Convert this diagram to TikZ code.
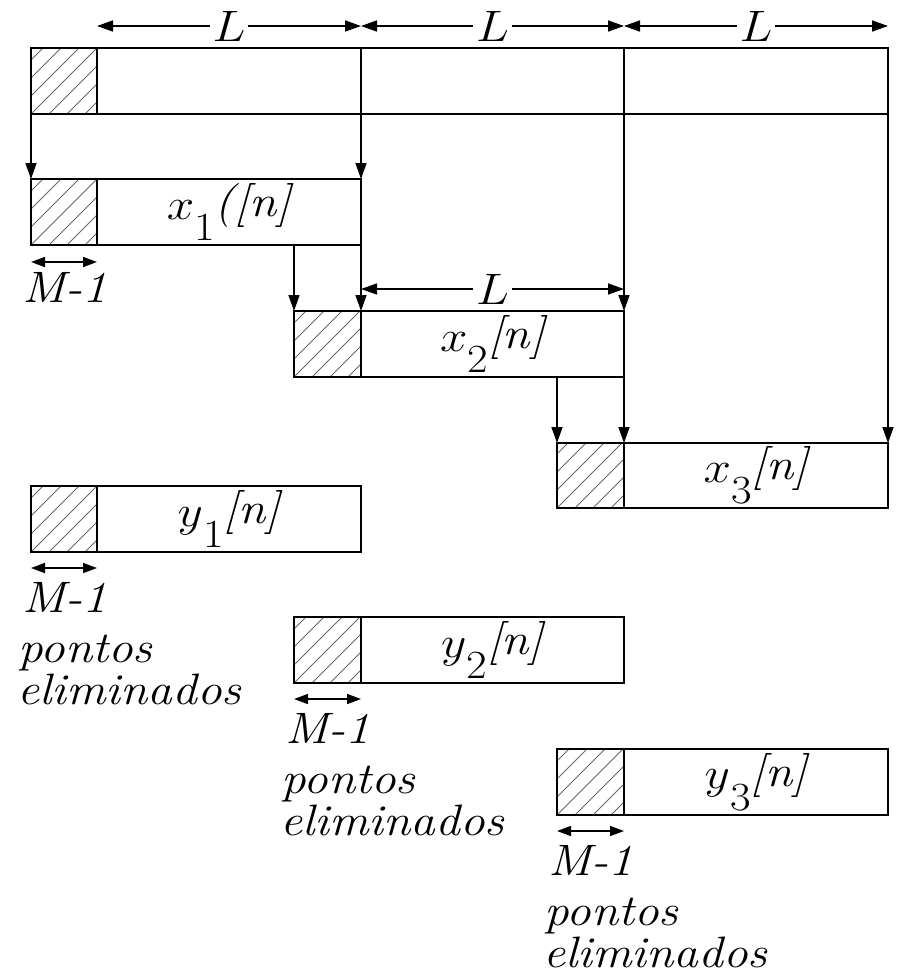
\RequirePackage{fix-cm}
\documentclass[tikz,border=0pt]{standalone}
\usetikzlibrary{arrows.meta,calc}
\newcommand\wide[1]{\scalebox{1.12}[1]{#1}}
\newcommand\sigl[3]{\wide{$#1$\raisebox{-0.48em}{\fontsize{40}{42}\selectfont #2}\raisebox{0.06em}{\itshape #3}}}
\begin{document}
\begin{tikzpicture}[x=1pt,y=-1pt,
  every node/.style={font=\fontsize{44}{52}\selectfont},
  seg/.style={draw,line width=1.6pt,rectangle,anchor=north west,inner sep=0pt,outer sep=0pt,minimum height=66pt},
  hatch/.style={seg,path picture={
      \foreach \i in {-90,-72,...,90}
        \draw[gray!80!black,line width=0.9pt] ([xshift=\i pt]path picture bounding box.south west) -- ++(160pt,160pt);}},
  arr/.style={line width=1.5pt,-{Triangle[length=16pt,width=11pt]}},
  dim/.style={line width=1.6pt,{Triangle[length=16pt,width=11pt]}-{Triangle[length=16pt,width=11pt]}},
  sdim/.style={line width=1.6pt,{Triangle[length=14pt,width=10pt]}-{Triangle[length=14pt,width=10pt]}},
  lbl/.style={fill=white,inner sep=3pt,font=\fontsize{44}{52}\selectfont},
  txt/.style={anchor=base west,inner sep=0pt,font=\fontsize{44}{52}\selectfont\itshape}]
\useasboundingbox (0,0) rectangle (898,977);
% top bar
\node[hatch,minimum width=66pt] (h0) at (31,48) {};
\node[seg,minimum width=264pt] (t1) at (97,48) {};
\node[seg,minimum width=263pt] (t2) at (361,48) {};
\node[seg,minimum width=264pt] (t3) at (624,48) {};
% x1
\node[hatch,minimum width=66pt] (x1h) at (31,179) {};
\node[seg,minimum width=264pt] (x1) at (97,179) {};
\node at (x1.center) {\sigl{x}{1}{([n]}};
% x2
\node[hatch,minimum width=67pt] (x2h) at (294,311) {};
\node[seg,minimum width=263pt] (x2) at (361,311) {};
\node at (x2.center) {\sigl{x}{2}{[n]}};
% x3
\node[hatch,minimum width=67pt,minimum height=65pt] (x3h) at (557,443) {};
\node[seg,minimum width=264pt,minimum height=65pt] (x3) at (624,443) {};
\node at (x3.center) {\sigl{x}{3}{[n]}};
% y boxes
\node[hatch,minimum width=66pt] (y1h) at (31,486) {};
\node[seg,minimum width=264pt] (y1) at (97,486) {};
\node at (y1.center) {\sigl{y}{1}{[n]}};
\node[hatch,minimum width=67pt] (y2h) at (294,617) {};
\node[seg,minimum width=263pt] (y2) at (361,617) {};
\node at (y2.center) {\sigl{y}{2}{[n]}};
\node[hatch,minimum width=67pt] (y3h) at (557,749) {};
\node[seg,minimum width=264pt] (y3) at (624,749) {};
\node at (y3.center) {\sigl{y}{3}{[n]}};
% top L dimensions
\draw[dim] ([yshift=22pt]t1.north west) -- ([yshift=22pt]t1.north east) node[midway,lbl] {\wide{$L$}};
\draw[dim] ([yshift=22pt]t2.north west) -- ([yshift=22pt]t2.north east) node[midway,lbl] {\wide{$L$}};
\draw[dim] ([yshift=22pt]t3.north west) -- ([yshift=22pt]t3.north east) node[midway,lbl] {\wide{$L$}};
\draw[dim] ([yshift=22pt]x2.north west) -- ([yshift=22pt]x2.north east) node[midway,lbl] {\wide{$L$}};
% vertical arrows
\draw[arr] (h0.south west) -- (x1h.north west);
\draw[arr] (t1.south east) -- (x1.north east);
\draw[arr] (x1.south -| x2h.north west) -- (x2h.north west);
\draw[arr] (x1.south east) -- (x2.north west);
\draw[arr] (t2.south east) -- (x2.north east);
\draw[arr] (x2.south -| x3h.north west) -- (x3h.north west);
\draw[arr] (x2.south east) -- (x3.north west);
\draw[arr] (t3.south east) -- (x3.north east);
% M-1 dimensions
\draw[sdim] ([yshift=-17pt]x1h.south west) -- ([yshift=-17pt]x1h.south east);
\node[txt] (m0) at (22,302) {\wide{M-1}};
\draw[sdim] ([yshift=-16pt]y1h.south west) -- ([yshift=-16pt]y1h.south east);
\node[txt] (m1) at (22,612) {\wide{M-1}};
\node[txt] (p1) at (18,662) {\wide{pontos}};
\node[txt] (e1) at (17,704) {\wide{eliminados}};
\draw[sdim] ([yshift=-16pt]y2h.south west) -- ([yshift=-16pt]y2h.south east);
\node[txt] (m2) at (285,743) {\wide{M-1}};
\node[txt] (p2) at (281,793) {\wide{pontos}};
\node[txt] (e2) at (280,835) {\wide{eliminados}};
\draw[sdim] ([yshift=-16pt]y3h.south west) -- ([yshift=-16pt]y3h.south east);
\node[txt] (m3) at (548,875) {\wide{M-1}};
\node[txt] (p3) at (544,925) {\wide{pontos}};
\node[txt] (e3) at (543,967) {\wide{eliminados}};
\end{tikzpicture}
\end{document}
